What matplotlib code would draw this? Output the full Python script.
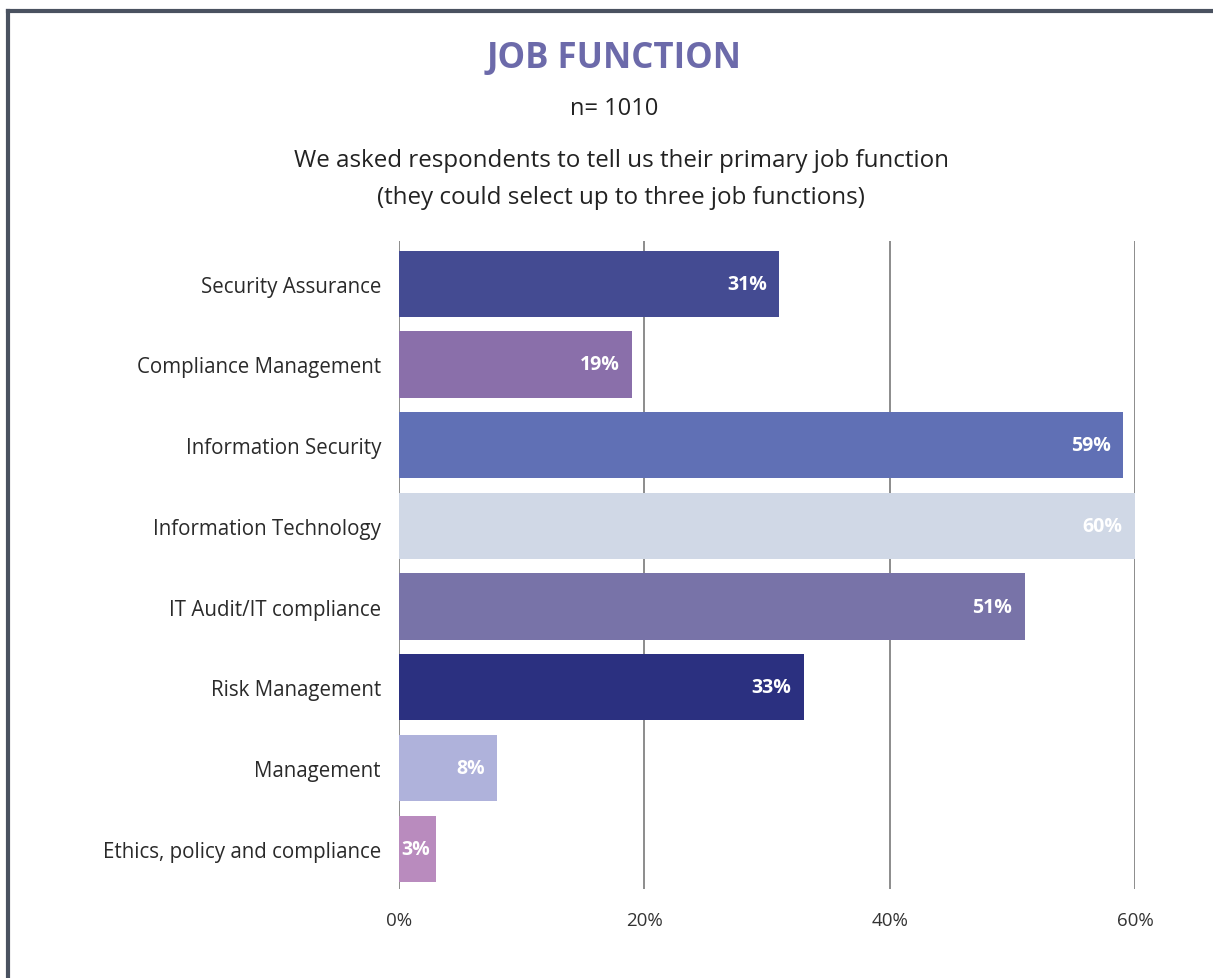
import matplotlib
matplotlib.use('Agg')
import matplotlib.pyplot as plt
from matplotlib.lines import Line2D

plt.rcParams['font.family'] = ['Open Sans', 'DejaVu Sans']

categories = ['Security Assurance', 'Compliance Management', 'Information Security',
              'Information Technology', 'IT Audit/IT compliance', 'Risk Management',
              'Management', 'Ethics, policy and compliance']
values = [31, 19, 59, 60, 51, 33, 8, 3]
bar_colors = ['#444B92', '#8A6FAA', '#6070B5', '#D0D8E6', '#7873A8', '#2B3080',
              '#AFB2DB', '#B98BBE']
xticks = [0, 20, 40, 60]
xtick_labels = ['0%', '20%', '40%', '60%']

fig = plt.figure(figsize=(12.13, 9.79), dpi=100)
ax = fig.add_axes([399 / 1213, 1 - 890 / 979, (1135 - 399) / 1213, (890 - 242) / 979])

y = list(range(len(categories)))
ax.barh(y, values, height=0.82, color=bar_colors, zorder=2)
for yi, v in zip(y, values):
    # short bars: label starts at the bar base so it stays inside
    if v < 5:
        ax.text(0.15, yi, f'{v}%', ha='left', va='center', color='white',
                fontsize=14, fontweight='bold', zorder=3)
    else:
        ax.text(v - 1.0, yi, f'{v}%', ha='right', va='center', color='white',
                fontsize=14, fontweight='bold', zorder=3)

ax.set_xlim(0, 60)
ax.set_ylim(7.5, -0.53)
ax.set_yticks(y)
ax.set_yticklabels(categories, fontsize=14.8, color='#2a2a2a')
ax.set_xticks(xticks)
ax.set_xticklabels(xtick_labels, fontsize=13.5, color='#333333')
ax.tick_params(axis='both', length=0)
ax.tick_params(axis='y', pad=13)
ax.tick_params(axis='x', pad=16)
for s in ax.spines.values():
    s.set_visible(False)
ax.grid(axis='x', color='#8c8c8c', lw=1.4, zorder=1)
ax.set_axisbelow(True)

# titles
fig.text(614 / 1213, 1 - 59 / 979, 'JOB FUNCTION', ha='center', va='center',
         fontsize=25, fontweight='bold', color='#6C6AAA')
fig.text(614 / 1213, 1 - 109 / 979, 'n= 1010', ha='center', va='center',
         fontsize=17, color='#222222')
fig.text(621 / 1213, 1 - 161 / 979, 'We asked respondents to tell us their primary job function',
         ha='center', va='center', fontsize=17.4, color='#222222')
fig.text(621 / 1213, 1 - 198 / 979, '(they could select up to three job functions)',
         ha='center', va='center', fontsize=17.4, color='#222222')

# frame lines (top and left)
fig.add_artist(Line2D([8 / 1213, 1], [1 - 12 / 979, 1 - 12 / 979], color='#4A5260', lw=3,
                      transform=fig.transFigure))
fig.add_artist(Line2D([8 / 1213, 8 / 1213], [0, 1 - 12 / 979], color='#4A5260', lw=3,
                      transform=fig.transFigure))

plt.savefig('out.png', dpi=100, facecolor='white')
